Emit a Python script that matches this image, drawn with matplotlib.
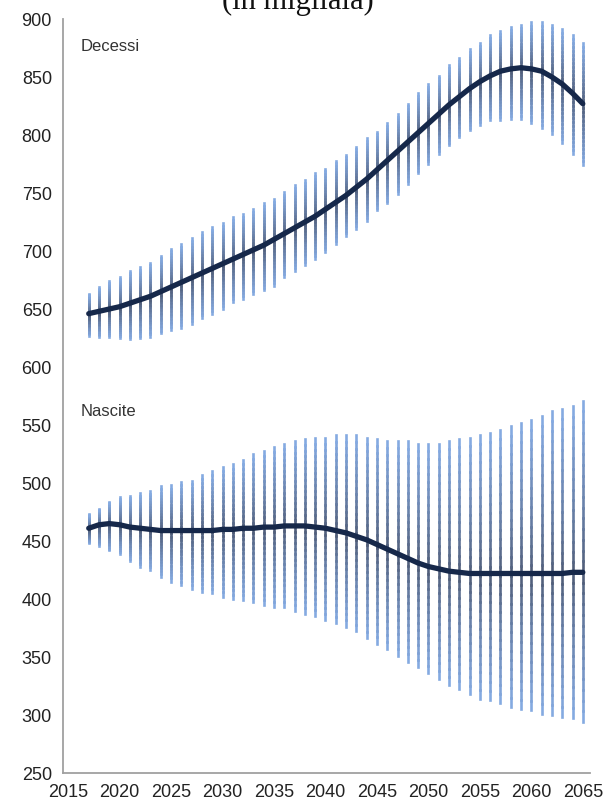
import numpy as np
import matplotlib
matplotlib.use('Agg')
import matplotlib.pyplot as plt
from matplotlib.collections import LineCollection
from matplotlib.colors import to_rgb

years = list(range(2017, 2066))

# Decessi: mediana e intervallo
dec_mid = [646, 648, 650, 652, 655, 658, 661, 665, 669, 673,
           677, 681, 685, 689, 693, 697, 701, 705, 710, 715,
           720, 725, 730, 736, 742, 748, 755, 762, 770, 778,
           786, 794, 802, 810, 818, 826, 833, 840, 846, 851,
           855, 857, 858, 857, 855, 850, 844, 836, 827]
dec_lo = [627, 626, 626, 625, 624, 625, 626, 629, 632, 634,
          637, 642, 646, 650, 656, 659, 663, 666, 670, 678,
          683, 688, 693, 699, 706, 713, 719, 726, 735, 741,
          749, 758, 767, 775, 784, 791, 798, 804, 809, 813,
          813, 814, 814, 810, 806, 801, 793, 784, 774]
dec_hi = [663, 669, 674, 678, 683, 686, 690, 696, 702, 706,
          711, 716, 721, 724, 729, 732, 736, 741, 745, 751,
          757, 761, 767, 771, 778, 783, 790, 797, 803, 810,
          818, 827, 836, 844, 851, 860, 866, 874, 879, 886,
          890, 893, 895, 897, 897, 895, 891, 886, 879]

# Nascite
nas_mid = [461, 464, 465, 464, 462, 461, 460, 459, 459, 459,
           459, 459, 459, 460, 460, 461, 461, 462, 462, 463,
           463, 463, 462, 461, 459, 457, 454, 451, 447, 443,
           439, 435, 431, 428, 426, 424, 423, 422, 422, 422,
           422, 422, 422, 422, 422, 422, 422, 423, 423]
nas_lo = [448, 446, 442, 439, 433, 428, 425, 419, 415, 412,
          409, 406, 405, 402, 400, 399, 397, 395, 393, 393,
          390, 387, 385, 382, 379, 376, 372, 366, 361, 357,
          351, 346, 341, 336, 331, 326, 322, 318, 314, 313,
          310, 307, 305, 304, 301, 300, 298, 297, 294]
nas_hi = [473, 478, 484, 488, 489, 491, 493, 497, 498, 501,
          502, 507, 510, 514, 516, 520, 525, 528, 531, 534,
          536, 538, 539, 539, 541, 541, 541, 539, 538, 536,
          536, 536, 534, 534, 534, 536, 538, 539, 541, 543,
          546, 549, 552, 554, 558, 562, 564, 566, 571]

series_names = ['Decessi', 'Nascite']
yticks = list(range(250, 901, 50))
xticks = list(range(2015, 2066, 5))

plt.rcParams['font.family'] = ['Liberation Sans', 'DejaVu Sans']

fig = plt.figure(figsize=(6.08, 8.07), dpi=100)
ax = fig.add_axes([63 / 608, 34 / 807, 527 / 608, 754 / 807])

light = np.array(to_rgb('#86ace4'))
dark = np.array(to_rgb('#4e5a74'))


def gradient_bars(ax, xs, mid, lo, hi, nseg=30):
    segs, cols = [], []
    for x, m, a, b in zip(xs, mid, lo, hi):
        edges = np.linspace(a, b, nseg + 1)
        for y0, y1 in zip(edges[:-1], edges[1:]):
            yc = 0.5 * (y0 + y1)
            half = (b - m) if yc >= m else (m - a)
            t = min(abs(yc - m) / max(half, 1e-6), 1.0)
            w = t ** 0.8
            segs.append([(x, y0), (x, y1)])
            cols.append(dark * (1 - w) + light * w)
    lc = LineCollection(segs, colors=cols, linewidths=1.9, capstyle='projecting')
    ax.add_collection(lc)


for mid, lo, hi in [(dec_mid, dec_lo, dec_hi), (nas_mid, nas_lo, nas_hi)]:
    gradient_bars(ax, years, mid, lo, hi)
    ax.plot(years, mid, color='#16284a', lw=3.8, solid_capstyle='round',
            solid_joinstyle='round', zorder=5)

ax.set_xlim(2014.5, 2065.7)
ax.set_ylim(250, 900)
ax.set_yticks(yticks)
ax.set_xticks(xticks)
ax.tick_params(length=0, labelsize=13, colors='#222222', pad=8)
for s in ['top', 'right']:
    ax.spines[s].set_visible(False)
for s in ['left', 'bottom']:
    ax.spines[s].set_color('#a0a0a0')
    ax.spines[s].set_linewidth(1.3)

ax.text(2016.2, 876, series_names[0], fontsize=12, color='#333333', va='center')
ax.text(2016.2, 562, series_names[1], fontsize=12, color='#333333', va='center')

fig.text(0.49, 1 - 9 / 807, '(in migliaia)', ha='center', va='baseline',
         fontsize=22, family='Liberation Serif', color='#111111')

fig.savefig('out.png', dpi=100, facecolor='white')
